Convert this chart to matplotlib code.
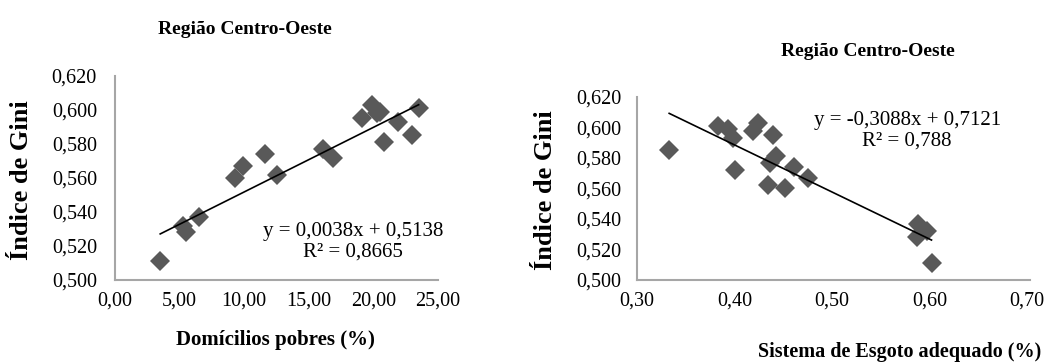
import matplotlib
matplotlib.use("Agg")
import matplotlib.pyplot as plt
import numpy as np

plt.rcParams["font.family"] = ["Liberation Serif", "DejaVu Serif"]

# Índice de Gini por observação
gini = [0.511, 0.528, 0.532, 0.537, 0.560, 0.562, 0.567, 0.572, 0.574,
        0.577, 0.581, 0.585, 0.593, 0.595, 0.598, 0.599, 0.601, 0.603]
# Domicílios pobres (%)
pobres = [3.5, 5.5, 5.3, 6.5, 9.3, 12.5, 9.9, 16.9, 11.6,
          16.1, 20.8, 23.0, 21.9, 19.1, 20.3, 20.5, 23.5, 19.9]
# Sistema de esgoto adequado (proporção)
esgoto = [0.602, 0.587, 0.597, 0.588, 0.4515, 0.4345, 0.475, 0.400, 0.461,
          0.436, 0.443, 0.333, 0.398, 0.4395, 0.419, 0.393, 0.383, 0.424]

# Coeficientes das linhas de tendência
slope_l, icpt_l, r2_l = 0.0038, 0.5138, 0.8665
slope_r, icpt_r, r2_r = -0.3088, 0.7121, 0.788

yticks = [0.50, 0.52, 0.54, 0.56, 0.58, 0.60, 0.62]
xticks_l = [0, 5, 10, 15, 20, 25]
xticks_r = [0.30, 0.40, 0.50, 0.60, 0.70]

title = "Região Centro-Oeste"
ylabel = "Índice de Gini"
xlabel_l = "Domícilios pobres (%)"
xlabel_r = "Sistema de Esgoto adequado (%)"


def br(v, nd):
    return f"{v:.{nd}f}".replace(".", ",")


W, H = 1051, 363
fig = plt.figure(figsize=(W / 100, H / 100), dpi=100)

ax_l = fig.add_axes([115 / W, 1 - 280 / H, 323 / W, 204 / H])
ax_r = fig.add_axes([637 / W, 1 - 280 / H, 393 / W, 183 / H])

marker_color = "#595959"
spine_color = "#a6a6a6"
tick_fs = 14.5


def style(ax, xticks, xfmt, xlim, pad_y):
    ax.set_ylim(0.50, 0.62)
    ax.set_xlim(*xlim)
    ax.set_yticks(yticks)
    ax.set_yticklabels([br(v, 3) for v in yticks], fontsize=tick_fs)
    ax.set_xticks(xticks)
    ax.set_xticklabels([br(v, xfmt) for v in xticks], fontsize=tick_fs)
    for s in ("top", "right"):
        ax.spines[s].set_visible(False)
    for s in ("left", "bottom"):
        ax.spines[s].set_color(spine_color)
        ax.spines[s].set_linewidth(1.5)
    ax.tick_params(axis="y", length=0, pad=pad_y)
    ax.tick_params(axis="x", length=0, pad=8)


style(ax_l, xticks_l, 2, (0, 25), 13)
style(ax_r, xticks_r, 2, (0.30, 0.703), 11)

ax_l.plot(pobres, gini, "D", color=marker_color, markersize=10, markeredgewidth=0, zorder=2)
ax_r.plot(esgoto, gini, "D", color=marker_color, markersize=10, markeredgewidth=0, zorder=2)

xl = np.array([min(pobres), max(pobres)])
ax_l.plot(xl, slope_l * xl + icpt_l, color="black", lw=1.2, zorder=3)
xr = np.array([min(esgoto), max(esgoto)])
ax_r.plot(xr, slope_r * xr + icpt_r, color="black", lw=1.2, zorder=3)

ax_l.text(18.4, 0.5225,
          f"y = {br(slope_l, 4)}x + {br(icpt_l, 4)}\nR² = {br(r2_l, 4)}",
          ha="center", va="center", fontsize=15, linespacing=1.1)
ax_r.text(0.577, 0.598,
          f"y = {br(slope_r, 4)}x + {br(icpt_r, 4)}\nR² = {br(r2_r, 3)}",
          ha="center", va="center", fontsize=15, linespacing=1.1)

fig.text(245 / W, 1 - 30 / H, title, ha="center", va="center",
         fontsize=14, fontweight="bold")
fig.text(868 / W, 1 - 52 / H, title, ha="center", va="center",
         fontsize=14, fontweight="bold")

fig.text(275 / W, 1 - 340 / H, xlabel_l, ha="center", va="center",
         fontsize=15, fontweight="bold")
fig.text(900 / W, 1 - 352 / H, xlabel_r, ha="center", va="center",
         fontsize=14.5, fontweight="bold")

fig.text(22 / W, 1 - 180 / H, ylabel, ha="center", va="center",
         fontsize=19, fontweight="bold", rotation=90)
fig.text(545 / W, 1 - 190 / H, ylabel, ha="center", va="center",
         fontsize=19, fontweight="bold", rotation=90)

fig.savefig("out.png", dpi=100, facecolor="white")
